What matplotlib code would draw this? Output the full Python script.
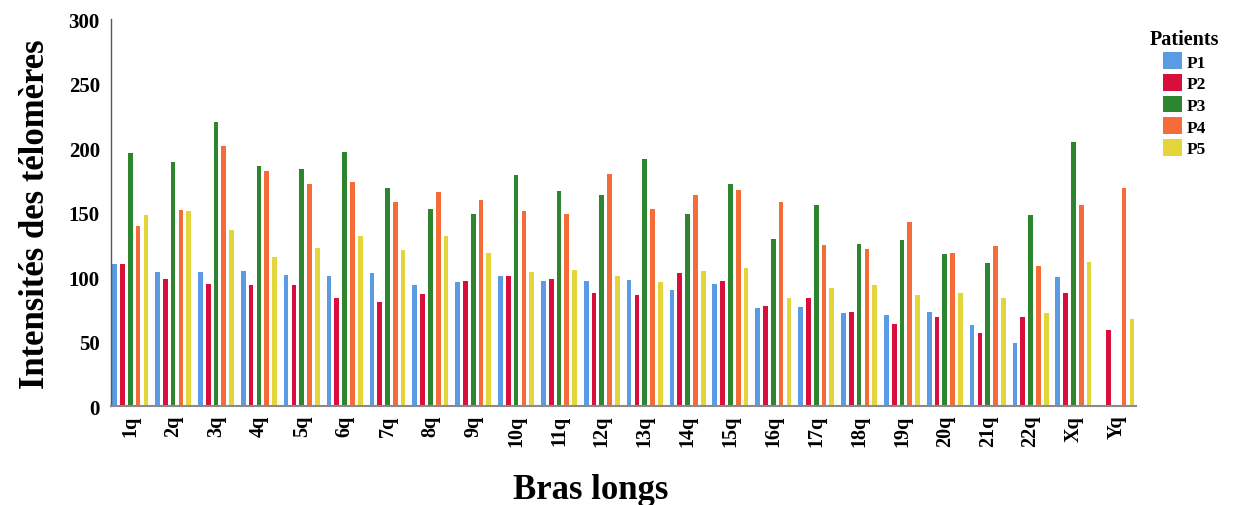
import numpy as np
import matplotlib.pyplot as plt
from matplotlib.patches import Patch

# Intensités par bras long et par patient
bras = ['1q', '2q', '3q', '4q', '5q', '6q', '7q', '8q', '9q', '10q', '11q', '12q',
        '13q', '14q', '15q', '16q', '17q', '18q', '19q', '20q', '21q', '22q', 'Xq', 'Yq']
p1 = [110, 104, 104, 105, 102, 101, 103, 94, 96, 101, 97, 97,
      98, 90, 95, 76, 77, 72, 71, 73, 63, 49, 100, 0]
p2 = [110, 99, 95, 94, 94, 84, 81, 87, 97, 101, 99, 88,
      86, 103, 97, 78, 84, 73, 64, 69, 57, 69, 88, 59]
p3 = [196, 189, 220, 186, 184, 197, 169, 153, 149, 179, 167, 164,
      192, 149, 172, 130, 156, 126, 129, 118, 111, 148, 205, 0]
p4 = [140, 152, 202, 182, 172, 174, 158, 166, 160, 151, 149, 180,
      153, 164, 168, 158, 125, 122, 143, 119, 124, 109, 156, 169]
p5 = [148, 151, 137, 116, 123, 132, 121, 132, 119, 104, 106, 101,
      96, 105, 107, 84, 92, 94, 86, 88, 84, 72, 112, 68]

patients = ['P1', 'P2', 'P3', 'P4', 'P5']
series = [p1, p2, p3, p4, p5]
couleurs = ['#5b9be3', '#d80f3d', '#2e8530', '#f56c38', '#e3d53a']

plt.rcParams['font.family'] = ['Liberation Serif', 'DejaVu Serif']
plt.rcParams['font.weight'] = 'bold'

fig = plt.figure(figsize=(12.33, 5.06), dpi=100)
ax = fig.add_axes([0.09, 0.195, 0.831, 0.765])

x = np.arange(len(bras))
pas = 0.182
largeur = 0.11
for i, (vals, c) in enumerate(zip(series, couleurs)):
    ax.bar(x + (i - 2) * pas, vals, width=largeur, color=c, linewidth=0)

ax.set_xlim(-0.45, len(bras) - 0.55)
ax.set_ylim(0, 300)
ax.set_yticks([0, 50, 100, 150, 200, 250, 300])
ax.set_xticks(x)
ax.set_xticklabels(bras, rotation=90, fontsize=14.5, fontweight='bold')
ax.tick_params(axis='y', length=0, labelsize=15, pad=8)
ax.tick_params(axis='x', length=0, pad=6)

for s in ['top', 'right']:
    ax.spines[s].set_visible(False)
ax.spines['left'].set_color('#555555')
ax.spines['left'].set_linewidth(1.0)
ax.spines['bottom'].set_color('#8a8a8a')
ax.spines['bottom'].set_linewidth(1.5)

ax.set_ylabel('Intensités des télomères', fontsize=25, fontweight='bold', labelpad=12)
ax.set_xlabel('Bras longs', fontsize=25, fontweight='bold')
ax.xaxis.set_label_coords(0.468, -0.172)

poignees = [Patch(facecolor=c, edgecolor='none') for c in couleurs]
leg = fig.legend(poignees, patients, title='Patients', loc='upper left',
                 bbox_to_anchor=(0.92, 0.972), frameon=False,
                 prop={'size': 12.5, 'weight': 'bold'},
                 handlelength=1.1, handleheight=1.1, handletextpad=0.3,
                 labelspacing=0.2)
leg.get_title().set_fontsize(14.5)
leg.get_title().set_fontweight('bold')

fig.savefig('out.png', dpi=100)
